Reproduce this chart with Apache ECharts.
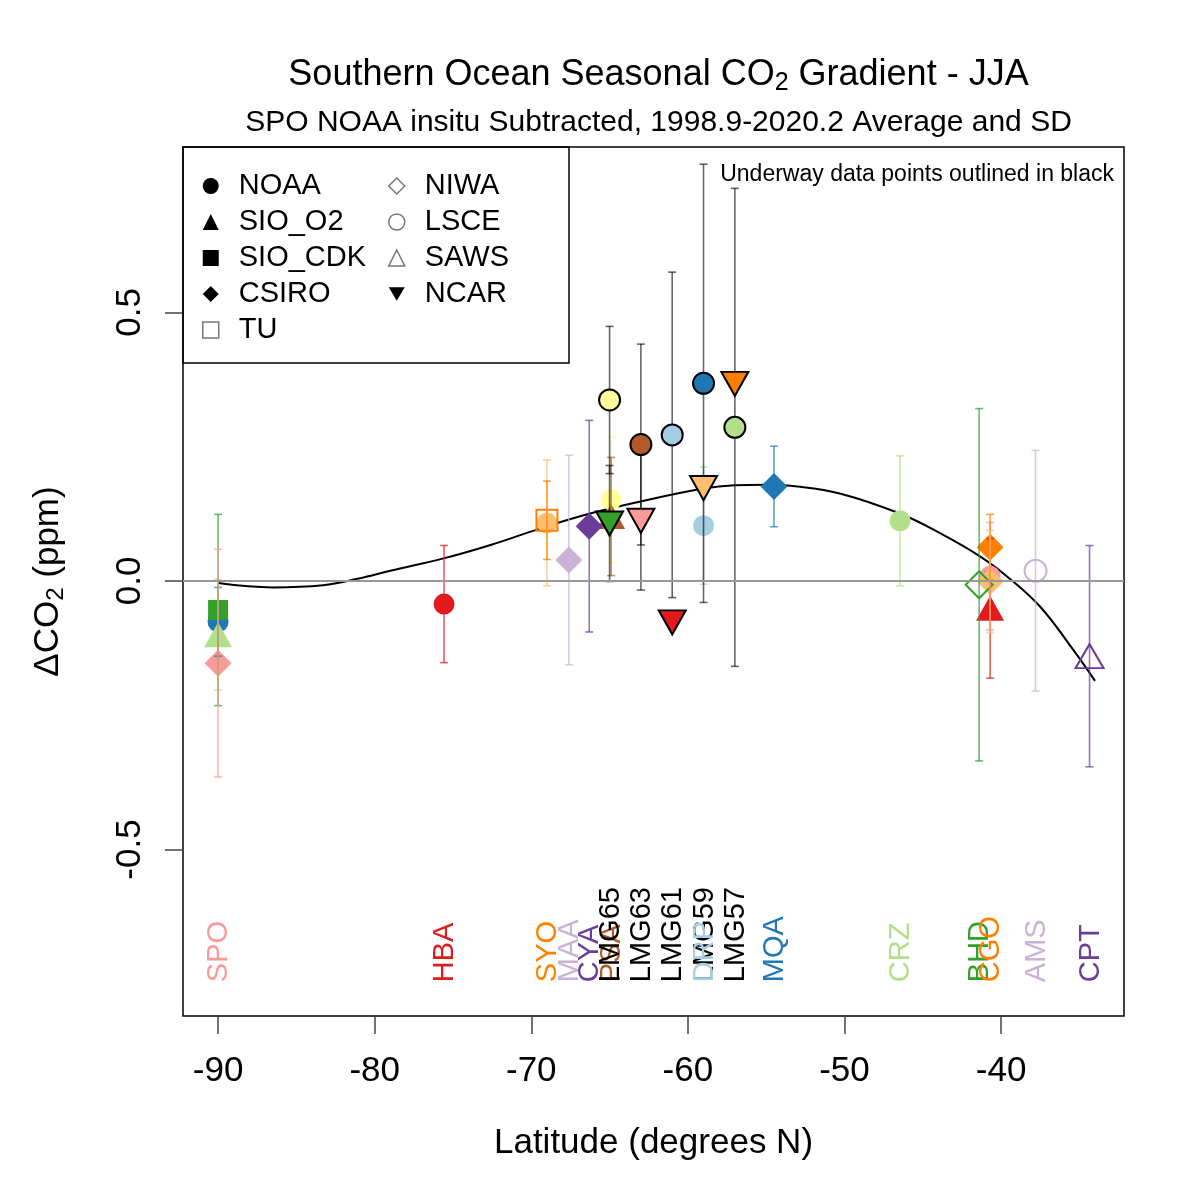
<!DOCTYPE html>
<html>
<head>
    <meta charset="utf-8">
    <title>Southern Ocean Seasonal CO2 Gradient - JJA</title>
    <script src="https://cdn.jsdelivr.net/npm/echarts@6/dist/echarts.min.js"></script>
    <style>
        html, body { margin: 0; padding: 0; background: #fff; }
        #chart1 { width: 1200px; height: 1200px; }
    </style>
</head>
<body>
<div id="chart1"></div>
<script>
    // colour table (RColorBrewer Paired), data below refers to it by index
    var palette = ['#a6cee3', '#1f78b4', '#b2df8a', '#33a02c', '#fb9a99', '#e31a1c',
                   '#fdbf6f', '#ff7f00', '#cab2d6', '#6a3d9a', '#ffff99', '#b15928'];

    // NOAA, fixed sites
    var noaaLat  = [-90, -75.57, -69.0, -64.9, -59.0, -46.45, -40.7];
    var noaaVal  = [-0.076, -0.043, 0.108, 0.151, 0.103, 0.112, 0.009];
    var noaaSd   = [0.064, 0.109, 0.117, 0.117, 0.109, 0.121, 0.100];
    var noaaTone = [1, 5, 6, 10, 0, 2, 4];
    // NOAA, underway (LMG cruises)
    var noaaUwLat  = [-65, -63, -61, -59, -57];
    var noaaUwVal  = [0.337, 0.254, 0.272, 0.368, 0.286];
    var noaaUwSd   = [0.137, 0.187, 0.303, 0.408, 0.445];
    var noaaUwTone = [10, 11, 0, 1, 2];
    // SIO_O2
    var sioO2Lat  = [-90, -64.9, -40.7];
    var sioO2Val  = [-0.100, 0.120, -0.051];
    var sioO2Sd   = [0.103, 0.110, 0.130];
    var sioO2Tone = [2, 11, 5];
    // SIO_CDK
    var sioCdkLat  = [-90];
    var sioCdkVal  = [-0.054];
    var sioCdkSd   = [0.178];
    var sioCdkTone = [3];
    // CSIRO
    var csiroLat  = [-90, -67.6, -66.3, -54.5, -40.7, -40.7];
    var csiroVal  = [-0.153, 0.039, 0.102, 0.176, 0.063, -0.001];
    var csiroSd   = [0.212, 0.195, 0.197, 0.075, 0.061, 0.095];
    var csiroTone = [4, 8, 9, 1, 7, 6];
    // TU
    var tuLat = [-69.0], tuVal = [0.113], tuSd = [0.073], tuTone = [7];
    // NIWA
    var niwaLat = [-41.4], niwaVal = [-0.007], niwaSd = [0.328], niwaTone = [3];
    // LSCE
    var lsceLat = [-37.8], lsceVal = [0.019], lsceSd = [0.224], lsceTone = [8];
    // SAWS
    var sawsLat = [-34.35], sawsVal = [-0.140], sawsSd = [0.206], sawsTone = [9];
    // NCAR (underway)
    var ncarLat  = [-65, -63, -61, -59, -57];
    var ncarVal  = [0.107, 0.112, -0.077, 0.173, 0.367];
    var ncarSd   = [0.108, 0.129, null, null, null];
    var ncarTone = [3, 4, 5, 6, 7];

    // fitted curve
    var curveLat = [-90, -86.5, -83.3, -81.1, -79.0, -75.6, -72.6, -69.4, -66.3, -63.0, -59.0,
                    -57.0, -55.0, -53.0, -50.3, -46.5, -43.9, -41.3, -39.6, -37.5, -35.4, -34.0];
    var curveVal = [-0.004, -0.012, -0.008, 0.004, 0.019, 0.042, 0.067, 0.098, 0.125, 0.148, 0.172,
                    0.178, 0.179, 0.176, 0.163, 0.126, 0.089, 0.045, 0.008, -0.048, -0.128, -0.186];

    // station names along the bottom (tone -1 = black)
    var siteNames = ['SPO', 'HBA', 'SYO', 'MAA', 'CYA', 'PSA', 'LMG65', 'LMG63', 'LMG61', 'LMG59',
                     'DRP', 'LMG57', 'MQA', 'CRZ', 'BHD', 'CGO', 'AMS', 'CPT'];
    var siteLat   = [-90, -75.57, -69.0, -67.6, -66.3, -64.9, -65, -63, -61, -59,
                     -59, -57, -54.5, -46.45, -41.4, -40.7, -37.8, -34.35];
    var siteTone  = [4, 5, 7, 8, 9, 11, -1, -1, -1, -1, 0, -1, 1, 2, 3, 7, 8, 9];

    var xTicks = [-90, -80, -70, -60, -50, -40];
    var yTicks = [-0.5, 0, 0.5];

    var FONT = '"Liberation Sans", Arial, sans-serif';

    function rgba(hex, a) {
        var n = parseInt(hex.slice(1), 16);
        return 'rgba(' + (n >> 16) + ',' + ((n >> 8) & 255) + ',' + (n & 255) + ',' + a + ')';
    }

    // points of one program -> scatter items
    function points(lat, val, tone, open, underway) {
        return lat.map(function (x, i) {
            var c = palette[tone[i]];
            var st = open ? {color: 'rgba(255,255,255,0)', borderColor: c, borderWidth: 2, opacity: 1}
                          : {color: c, borderColor: underway ? '#000' : c, borderWidth: underway ? 2 : 0, opacity: 1};
            return {value: [x, val[i]], itemStyle: st};
        });
    }

    // error bar rows: lat, value, sd, tone
    var barsFixed = [], barsUw = [];
    function addBars(target, lat, val, sd, tone) {
        lat.forEach(function (x, i) {
            if (sd[i] != null) target.push([x, val[i], sd[i], tone[i]]);
        });
    }
    addBars(barsFixed, noaaLat, noaaVal, noaaSd, noaaTone);
    addBars(barsFixed, sioO2Lat, sioO2Val, sioO2Sd, sioO2Tone);
    addBars(barsFixed, sioCdkLat, sioCdkVal, sioCdkSd, sioCdkTone);
    addBars(barsFixed, csiroLat, csiroVal, csiroSd, csiroTone);
    addBars(barsFixed, tuLat, tuVal, tuSd, tuTone);
    addBars(barsFixed, niwaLat, niwaVal, niwaSd, niwaTone);
    addBars(barsFixed, lsceLat, lsceVal, lsceSd, lsceTone);
    addBars(barsFixed, sawsLat, sawsVal, sawsSd, sawsTone);
    addBars(barsUw, noaaUwLat, noaaUwVal, noaaUwSd, noaaUwTone);
    addBars(barsUw, ncarLat, ncarVal, ncarSd, ncarTone);

    function barRenderer(underway) {
        return function (params, api) {
            var x = api.value(0), y = api.value(1), sd = api.value(2);
            var top = api.coord([x, y + sd]), bot = api.coord([x, y - sd]);
            var col = underway ? 'rgba(0,0,0,0.6)' : rgba(palette[api.value(3)], 0.7);
            var st = {stroke: col, lineWidth: 1.6};
            var h = 4;
            return {
                type: 'group',
                children: [
                    {type: 'line', shape: {x1: top[0], y1: top[1], x2: bot[0], y2: bot[1]}, style: st},
                    {type: 'line', shape: {x1: top[0] - h, y1: top[1], x2: top[0] + h, y2: top[1]}, style: st},
                    {type: 'line', shape: {x1: bot[0] - h, y1: bot[1], x2: bot[0] + h, y2: bot[1]}, style: st}
                ]
            };
        };
    }

    var labelY = -0.747;
    var siteData = siteNames.map(function (n, i) { return [siteLat[i], labelY, i]; });

    var downTri = 'path://M0,0L20,0L10,17Z';
    var rich = {
        a: {fontSize: 35, fontWeight: 'normal', fontFamily: FONT, color: '#000'},
        b: {fontSize: 24, fontWeight: 'normal', fontFamily: FONT, color: '#000', padding: [16, 0, 0, 0]}
    };
    var titleRich = {
        a: {fontSize: 36, fontWeight: 'normal', fontFamily: FONT, color: '#000'},
        b: {fontSize: 25, fontWeight: 'normal', fontFamily: FONT, color: '#000', padding: [16, 0, 0, 0]}
    };
    var openIcon = {color: '#fff', borderColor: '#777', borderWidth: 1.5};
    var legendBase = {
        orient: 'vertical', top: 171, padding: 0, itemGap: 6,
        itemWidth: 16, itemHeight: 16,
        textStyle: {fontSize: 29, fontFamily: FONT, color: '#000', lineHeight: 30, padding: [0, 0, 0, 15]},
        itemStyle: {color: '#000', borderWidth: 0, opacity: 1}
    };

    var myChart1 = echarts.init(document.getElementById('chart1'));
    myChart1.setOption({
        animation: false,
        backgroundColor: '#fff',
        title: [{
            text: '{a|Southern Ocean Seasonal CO}{b|2}{a| Gradient - JJA}',
            left: 653.5, top: 50, textAlign: 'center',
            textStyle: {fontWeight: 'normal', rich: titleRich}
        }, {
            text: 'SPO NOAA insitu Subtracted, 1998.9-2020.2 Average and SD',
            left: 653.5, top: 103, textAlign: 'center',
            textStyle: {fontSize: 30, fontWeight: 'normal', fontFamily: FONT, color: '#000'}
        }],
        grid: {left: 183, right: 76, top: 147, bottom: 184, show: true,
               borderColor: '#000', borderWidth: 1.5, backgroundColor: 'transparent'},
        legend: [Object.assign({}, legendBase, {
            left: 202,
            data: [
                {name: 'NOAA', icon: 'circle'},
                {name: 'SIO_O2', icon: 'triangle'},
                {name: 'SIO_CDK', icon: 'rect'},
                {name: 'CSIRO', icon: 'diamond'},
                {name: 'TU', icon: 'rect', itemStyle: openIcon}
            ]
        }), Object.assign({}, legendBase, {
            left: 388,
            data: [
                {name: 'NIWA', icon: 'diamond', itemStyle: openIcon},
                {name: 'LSCE', icon: 'circle', itemStyle: openIcon},
                {name: 'SAWS', icon: 'triangle', itemStyle: openIcon},
                {name: 'NCAR', icon: downTri}
            ]
        })],
        graphic: [{
            type: 'rect', shape: {x: 183, y: 147, width: 386, height: 216},
            style: {fill: 'none', stroke: '#000', lineWidth: 1.5}, z: 10
        }, {
            type: 'text', x: 1114, y: 175, z: 10,
            style: {text: 'Underway data points outlined in black', fill: '#000',
                    font: '23px ' + FONT, align: 'right', verticalAlign: 'middle'}
        }],
        xAxis: {
            type: 'value', min: -92.24, max: -32.15,
            splitLine: {show: false}, axisLine: {show: false, onZero: false},
            axisTick: {show: true, customValues: xTicks, length: 18, lineStyle: {color: '#444', width: 1.5}},
            axisLabel: {customValues: xTicks, fontSize: 35, fontFamily: FONT, color: '#000', margin: 38},
            name: 'Latitude (degrees N)', nameLocation: 'middle', nameGap: 110,
            nameTextStyle: {fontSize: 35, fontFamily: FONT, color: '#000'}
        },
        yAxis: {
            type: 'value', min: -0.81, max: 0.808,
            splitLine: {show: false}, axisLine: {show: false, onZero: false},
            axisTick: {show: true, customValues: yTicks, length: 18, lineStyle: {color: '#444', width: 1.5}},
            axisLabel: {customValues: yTicks, rotate: 90, fontSize: 35, fontFamily: FONT, color: '#000', margin: 35,
                        formatter: function (v) { return v.toFixed(1); }},
            name: '{a|ΔCO}{b|2}{a| (ppm)}', nameLocation: 'middle', nameRotate: 90, nameGap: 115,
            nameTextStyle: {rich: rich}
        },
        series: [
            {
                type: 'line', name: 'fit', z: 1, smooth: 0.4, showSymbol: false, silent: true,
                data: curveLat.map(function (x, i) { return [x, curveVal[i]]; }),
                lineStyle: {color: '#000', width: 2},
                markLine: {
                    silent: true, symbol: 'none', label: {show: false},
                    lineStyle: {color: '#999', width: 2, type: 'solid'},
                    data: [{yAxis: 0}]
                }
            },
            {type: 'scatter', name: 'NOAA', z: 2, symbol: 'circle', symbolSize: 21,
             data: points(noaaLat, noaaVal, noaaTone, false, false)},
            {type: 'scatter', name: 'SIO_O2', z: 2, symbol: 'triangle', symbolSize: [28, 25],
             data: points(sioO2Lat, sioO2Val, sioO2Tone, false, false)},
            {type: 'scatter', name: 'SIO_CDK', z: 2, symbol: 'rect', symbolSize: 20,
             data: points(sioCdkLat, sioCdkVal, sioCdkTone, false, false)},
            {type: 'scatter', name: 'CSIRO', z: 2, symbol: 'diamond', symbolSize: [27, 27],
             data: points(csiroLat, csiroVal, csiroTone, false, false)},
            {type: 'scatter', name: 'TU', z: 2, symbol: 'rect', symbolSize: 21,
             data: points(tuLat, tuVal, tuTone, true, false)},
            {type: 'scatter', name: 'NIWA', z: 2, symbol: 'diamond', symbolSize: [27, 27],
             data: points(niwaLat, niwaVal, niwaTone, true, false)},
            {type: 'scatter', name: 'LSCE', z: 2, symbol: 'circle', symbolSize: 22,
             data: points(lsceLat, lsceVal, lsceTone, true, false)},
            {type: 'scatter', name: 'SAWS', z: 2, symbol: 'triangle', symbolSize: [28, 24],
             data: points(sawsLat, sawsVal, sawsTone, true, false)},
            {type: 'custom', name: 'sd', z: 3, silent: true, data: barsFixed, renderItem: barRenderer(false)},
            {type: 'custom', name: 'sd underway', z: 3, silent: true, data: barsUw, renderItem: barRenderer(true)},
            {type: 'scatter', name: 'NOAA', z: 4, symbol: 'circle', symbolSize: 21,
             data: points(noaaUwLat, noaaUwVal, noaaUwTone, false, true)},
            {type: 'scatter', name: 'NCAR', z: 4, symbol: 'triangle', symbolRotate: 180, symbolSize: [27, 24],
             data: points(ncarLat, ncarVal, ncarTone, false, true)},
            {
                type: 'custom', name: 'sites', z: 5, silent: true, data: siteData,
                renderItem: function (params, api) {
                    var i = api.value(2);
                    var p = api.coord([api.value(0), api.value(1)]);
                    return {
                        type: 'text', x: p[0] + 1, y: p[1], rotation: Math.PI / 2,
                        style: {text: siteNames[i], fill: siteTone[i] < 0 ? '#000' : palette[siteTone[i]],
                                font: '29px ' + FONT, align: 'left', verticalAlign: 'middle'}
                    };
                }
            }
        ]
    });
</script>
</body>
</html>
